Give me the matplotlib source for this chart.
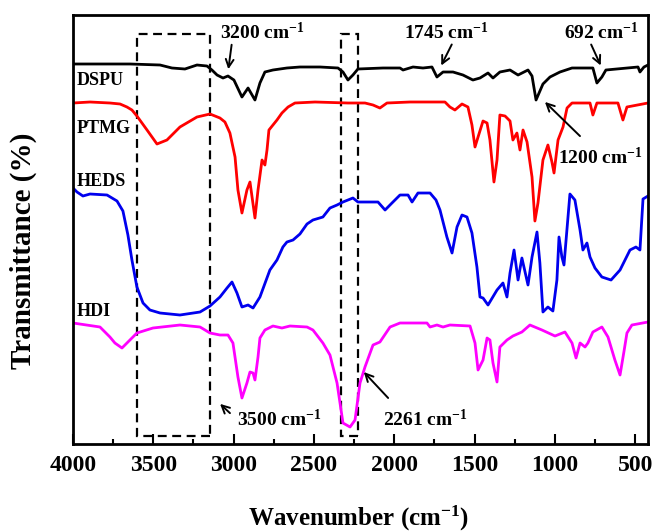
import matplotlib
matplotlib.use("Agg")
import matplotlib.pyplot as plt
from matplotlib.patches import Rectangle
from matplotlib.ticker import MultipleLocator

plt.rcParams['font.family'] = ['Liberation Serif', 'DejaVu Serif']
plt.rcParams['font.weight'] = 'bold'
plt.rcParams['mathtext.fontset'] = 'custom'
plt.rcParams['mathtext.rm'] = 'Liberation Serif:bold'
plt.rcParams['mathtext.bf'] = 'Liberation Serif:bold'
plt.rcParams['mathtext.default'] = 'bf'

# FTIR spectra, wavenumber (cm-1) vs transmittance (offset, a.u.)
dspu_wn = [4000, 3832, 3645, 3458, 3384, 3303, 3228, 3166, 3135, 3103, 3066, 3035, 2998,
           2948, 2910, 2867, 2836, 2805, 2755, 2668, 2587, 2462, 2350, 2319, 2288, 2257,
           2226, 2070, 1964, 1945, 1883, 1821, 1765, 1734, 1696, 1634, 1572, 1510, 1466,
           1416, 1385, 1342, 1279, 1229, 1167, 1142, 1117, 1074, 1030, 968, 893, 763, 738,
           707, 682, 482, 470, 445, 420]
dspu_t = [380, 380, 380, 379, 376, 375, 379, 378, 374, 369, 366, 368, 364,
          347, 356, 344, 361, 372, 374, 376, 377, 377, 376, 372, 364, 369,
          375, 376, 376, 374, 377, 376, 377, 367, 372, 372, 369, 364, 366,
          371, 366, 372, 374, 369, 374, 368, 344, 360, 367, 372, 376, 376, 361,
          367, 374, 377, 372, 377, 379]

ptmg_wn = [4000, 3894, 3770, 3707, 3664, 3633, 3602, 3539, 3477, 3415, 3334, 3228, 3147,
           3085, 3054, 3023, 2991, 2973, 2948, 2917, 2898, 2867, 2848, 2823, 2805, 2792,
           2780, 2755, 2730, 2699, 2661, 2618, 2493, 2288, 2182, 2132, 2089, 2045, 1902,
           1684, 1653, 1622, 1578, 1541, 1516, 1497, 1478, 1447, 1422, 1404, 1379, 1360,
           1342, 1310, 1279, 1261, 1236, 1217, 1198, 1173, 1142, 1124, 1105, 1074, 1043,
           1018, 1005, 980, 949, 924, 893, 781, 763, 738, 607, 576, 551, 420]
ptmg_t = [341, 342, 341, 340, 337, 334, 328, 314, 300, 304, 317, 327, 330,
          326, 322, 311, 287, 254, 231, 254, 262, 226, 254, 284, 279, 294,
          314, 319, 324, 331, 337, 341, 342, 341, 341, 339, 336, 341, 342,
          342, 337, 334, 340, 337, 319, 297, 307, 323, 321, 304, 262, 284,
          329, 328, 323, 304, 311, 294, 314, 302, 267, 223, 241, 284, 299,
          282, 271, 304, 317, 336, 341, 341, 329, 341, 341, 324, 337, 341]

heds_wn = [4000, 3975, 3938, 3894, 3788, 3726, 3689, 3658, 3633, 3602, 3564, 3521, 3458,
           3334, 3209, 3147, 3085, 3041, 3010, 2979, 2948, 2910, 2879, 2836, 2774, 2730,
           2693, 2668, 2630, 2587, 2543, 2506, 2444, 2400, 2356, 2319, 2257, 2226, 2151,
           2101, 2057, 2014, 1964, 1914, 1889, 1852, 1777, 1740, 1715, 1672, 1640, 1609,
           1578, 1547, 1516, 1485, 1466, 1447, 1416, 1360, 1323, 1298, 1279, 1254, 1229,
           1205, 1167, 1142, 1111, 1093, 1074, 1043, 1012, 987, 974, 956, 943, 906, 875,
           843, 825, 800, 781, 750, 707, 650, 594, 532, 495, 470, 451, 420]
heds_t = [256, 252, 248, 250, 249, 243, 233, 209, 184, 157, 141, 134, 131,
          129, 132, 138, 147, 156, 162, 151, 137, 139, 136, 147, 174, 184,
          197, 202, 204, 210, 220, 224, 227, 236, 239, 242, 246, 242, 242,
          242, 234, 241, 249, 249, 242, 251, 251, 244, 234, 207, 191, 217,
          229, 227, 211, 177, 147, 146, 139, 154, 161, 147, 171, 194, 164,
          186, 159, 187, 212, 181, 132, 137, 133, 164, 207, 187, 179, 250, 244,
          214, 194, 201, 187, 176, 167, 164, 174, 194, 197, 194, 245, 248]

hdi_wn = [4000, 3832, 3770, 3739, 3695, 3664, 3602, 3502, 3334, 3209, 3147, 3085, 3035,
          3004, 2973, 2948, 2917, 2898, 2879, 2867, 2848, 2836, 2805, 2755, 2699, 2649,
          2543, 2506, 2444, 2400, 2356, 2319, 2275, 2244, 2213, 2182, 2132, 2089, 2026,
          1964, 1796, 1777, 1734, 1696, 1653, 1528, 1497, 1478, 1447, 1422, 1404, 1385,
          1360, 1342, 1298, 1261, 1205, 1155, 1080, 999, 937, 893, 868, 843, 812, 794,
          763, 707, 669, 626, 594, 570, 551, 520, 420]
hdi_t = [121, 117, 107, 101, 96, 101, 111, 116, 119, 117, 111, 109, 109,
         101, 67, 46, 61, 72, 71, 64, 87, 106, 114, 118, 116, 118,
         117, 114, 101, 89, 61, 21, 17, 24, 61, 77, 99, 102, 117,
         121, 121, 117, 119, 117, 119, 118, 101, 74, 84, 106, 104, 81,
         62, 97, 104, 108, 112, 119, 114, 108, 112, 101, 86, 101, 97, 101,
         112, 117, 107, 84, 69, 92, 111, 119, 122]

names = ['DSPU', 'PTMG', 'HEDS', 'HDI']
colors = ['black', '#ff0000', '#0000ee', '#ff00ff']
name_y = [364, 316, 263, 133]

# dashed boxes: (high wn, low wn)
boxes = [(3602, 3147), (2331, 2226)]

# annotations: text, text position, arrow tail, arrow head
notes = [
    ('3200', (2823, 412), (3010, 402), (3035, 372)),
    ('1745', (1672, 412), (1634, 402), (1715, 376)),
    ('692', (713, 412), (781, 402), (707, 376)),
    ('1200', (719, 287), (831, 306), (1074, 344)),
    ('3500', (2717, 25), (3010, 29), (3097, 42)),
    ('2261', (1808, 25), (2026, 44), (2201, 74)),
]

fig = plt.figure(figsize=(6.54, 5.32), dpi=100)
ax = fig.add_axes([0.1116, 0.1654, 0.8792, 0.8064])

spectra = [(dspu_wn, dspu_t), (ptmg_wn, ptmg_t), (heds_wn, heds_t), (hdi_wn, hdi_t)]
for (wn, t), c in zip(spectra, colors):
    ax.plot(wn, t, color=c, lw=2.0, solid_joinstyle='round')

for name, y in zip(names, name_y):
    ax.text(3975, y, name, fontsize=13, fontweight='bold', va='center', ha='left')

for hi, lo in boxes:
    ax.add_patch(Rectangle((lo, 8), hi - lo, 402, fill=False, ec='black', lw=1.6,
                           ls=(0, (4, 2.5))))

for label, txt, tail, head in notes:
    ax.text(txt[0], txt[1], label + ' cm$^{-1}$', fontsize=14, fontweight='bold',
            ha='center', va='center')
    ax.annotate('', xy=head, xytext=tail,
                arrowprops=dict(arrowstyle='->', color='black', lw=1.4, mutation_scale=14))

ax.set_xlim(4000, 420)
ax.set_ylim(0, 429)
ax.xaxis.set_major_locator(MultipleLocator(500))
ax.xaxis.set_minor_locator(MultipleLocator(250))
ax.set_yticks([])
ax.tick_params(axis='x', which='major', direction='in', length=7, width=1.5,
               labelsize=17, pad=8)
ax.tick_params(axis='x', which='minor', direction='in', length=3.5, width=1.5)
for s in ax.spines.values():
    s.set_linewidth(2.0)
for lab in ax.get_xticklabels():
    lab.set_fontweight('bold')

ax.set_xlabel('Wavenumber (cm$^{-1}$)', fontsize=18, fontweight='bold')
ax.set_ylabel('Transmittance (%)', fontsize=21, fontweight='bold')
ax.xaxis.set_label_coords(0.496, -0.14)
ax.yaxis.set_label_coords(-0.062, 0.45)

fig.savefig('out.png', dpi=100)
